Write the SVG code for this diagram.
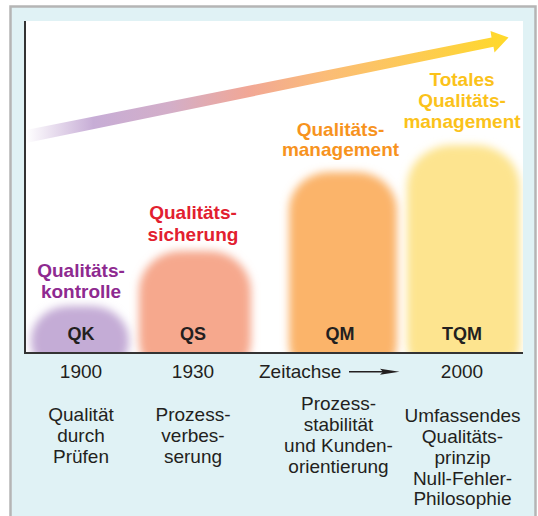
<svg xmlns="http://www.w3.org/2000/svg" width="538" height="516" viewBox="0 0 538 516">
  <defs>
    <style>
      text { font-family: "Liberation Sans", Arial, sans-serif; }
      .lbl { font-size: 19px; font-weight: bold; text-anchor: middle; }
      .abbr { font-size: 18px; font-weight: bold; text-anchor: middle; fill: #231f20; }
      .txt { font-size: 19px; text-anchor: middle; fill: #231f20; }
      .blob { filter: url(#soft); }
    </style>
    <filter id="soft" x="-25%" y="-25%" width="150%" height="150%">
      <feGaussianBlur stdDeviation="4.5"/>
    </filter>
    <clipPath id="panel">
      <rect x="26" y="21" width="497" height="331"/>
    </clipPath>
    <linearGradient id="trend" gradientUnits="userSpaceOnUse" x1="26" y1="0" x2="508" y2="0">
      <stop offset="0" stop-color="#ffffff"/>
      <stop offset="0.14" stop-color="#c7add6"/>
      <stop offset="0.3" stop-color="#d3aec8"/>
      <stop offset="0.46" stop-color="#f1a796"/>
      <stop offset="0.62" stop-color="#fbbc78"/>
      <stop offset="0.8" stop-color="#fdca55"/>
      <stop offset="1" stop-color="#ffd92a"/>
    </linearGradient>
  </defs>

  <!-- frame -->
  <rect x="10.5" y="6.5" width="525" height="520" fill="#e0f2f5" stroke="#b5b5b5" stroke-width="2.5"/>
  <rect x="24" y="21" width="499" height="332" fill="#ffffff"/>

  <!-- blobs -->
  <g clip-path="url(#panel)">
    <rect class="blob" x="31" y="306" width="98" height="70" rx="38" ry="34" fill="#c4acd6"/>
    <rect class="blob" x="139" y="251" width="112" height="130" rx="42" ry="40" fill="#f6a88d"/>
    <rect class="blob" x="289" y="172" width="108" height="210" rx="40" ry="38" fill="#fbb46a"/>
    <rect class="blob" x="407" y="145" width="113" height="240" rx="45" ry="42" fill="#fde48f"/>
  </g>

  <!-- trend arrow -->
  <g id="trend-arrow">
    <polygon points="26,130 491.5,37.5 490.5,31 508.5,37.5 494.5,52.5 493.5,46.8 26,143" fill="url(#trend)"/>
  </g>

  <!-- axes -->
  <g id="axes" stroke="#333333" stroke-width="2" fill="none">
    <line x1="25" y1="21" x2="25" y2="354"/>
    <line x1="24" y1="353" x2="523" y2="353"/>
  </g>

  <g id="phase-qk">
    <text class="lbl" fill="#8e2a90" x="81" y="277">Qualitäts-</text>
    <text class="lbl" fill="#8e2a90" x="81" y="298">kontrolle</text>
    <text class="abbr" x="81" y="340">QK</text>
    <text class="txt" x="81" y="377.5">1900</text>
    <text class="txt" x="81" y="421">Qualität</text>
    <text class="txt" x="81" y="442">durch</text>
    <text class="txt" x="81" y="463">Prüfen</text>
  </g>

  <g id="phase-qs">
    <text class="lbl" fill="#e2202f" x="193" y="219">Qualitäts-</text>
    <text class="lbl" fill="#e2202f" x="193" y="240.5">sicherung</text>
    <text class="abbr" x="193" y="340">QS</text>
    <text class="txt" x="193" y="377.5">1930</text>
    <text class="txt" x="193" y="421">Prozess-</text>
    <text class="txt" x="193" y="442">verbes-</text>
    <text class="txt" x="193" y="463">serung</text>
  </g>

  <g id="phase-qm">
    <text class="lbl" fill="#f7931e" x="340.5" y="135.5">Qualitäts-</text>
    <text class="lbl" fill="#f7931e" x="340.5" y="156">management</text>
    <text class="abbr" x="340" y="340">QM</text>
    <text class="txt" x="338.5" y="410">Prozess-</text>
    <text class="txt" x="338.5" y="431">stabilität</text>
    <text class="txt" x="338.5" y="452">und Kunden-</text>
    <text class="txt" x="338.5" y="473">orientierung</text>
  </g>

  <g id="phase-tqm">
    <text class="lbl" fill="#fbc21a" x="462" y="86">Totales</text>
    <text class="lbl" fill="#fbc21a" x="462" y="106.5">Qualitäts-</text>
    <text class="lbl" fill="#fbc21a" x="462" y="127.5">management</text>
    <text class="abbr" x="462" y="340">TQM</text>
    <text class="txt" x="462" y="377.5">2000</text>
    <text class="txt" x="462.5" y="422">Umfassendes</text>
    <text class="txt" x="462.5" y="443">Qualitäts-</text>
    <text class="txt" x="462.5" y="464">prinzip</text>
    <text class="txt" x="462.5" y="484.5">Null-Fehler-</text>
    <text class="txt" x="462.5" y="505">Philosophie</text>
  </g>

  <g id="time-axis">
    <text class="txt" style="text-anchor:start" x="259" y="377.5">Zeitachse</text>
    <line x1="349" y1="371.7" x2="384" y2="371.7" stroke="#231f20" stroke-width="1.6"/>
    <polygon points="380,368.7 399.5,371.7 380,374.7 383,371.7" fill="#231f20"/>
  </g>
</svg>
